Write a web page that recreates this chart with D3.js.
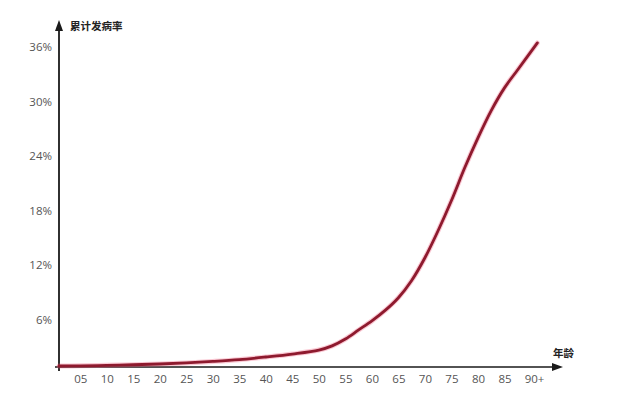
<!DOCTYPE html>
<html><head><meta charset="utf-8">
<script src="https://cdn.jsdelivr.net/npm/d3@7"></script>
<style>html,body{margin:0;padding:0;background:#fff;}svg{display:block;}</style>
</head><body>
<svg id="c" width="620" height="419"></svg>
<script>
const ages = [1, 5, 10, 15, 20, 25, 30, 35, 40, 45, 50, 52.5, 55, 57.5, 60, 62.5, 65, 67.5, 70, 72.5, 75, 77.5, 80, 82.5, 85, 87.5, 91.2];
const rates = [0.88, 0.9, 0.95, 1.02, 1.1, 1.22, 1.38, 1.58, 1.87, 2.2, 2.64, 3.1, 3.85, 4.85, 5.85, 7.0, 8.4, 10.3, 12.8, 15.8, 19.1, 22.7, 26.0, 29.0, 31.5, 33.5, 36.45];
const xTickValues = [5, 10, 15, 20, 25, 30, 35, 40, 45, 50, 55, 60, 65, 70, 75, 80, 85, 90];
const xTickLabels = ["05","10","15","20","25","30","35","40","45","50","55","60","65","70","75","80","85","90+"];
const yTickValues = [6, 12, 18, 24, 30, 36];
const yTickLabels = ["6%","12%","18%","24%","30%","36%"];
const yTitle = "累计发病率";
const xTitle = "年龄";

const svg = d3.select("#c");
const font = "'Open Sans', 'DejaVu Sans', sans-serif";
const x = d3.scaleLinear().domain([1, 90]).range([59, 531]);
const y = d3.scaleLinear().domain([0, 36]).range([374, 47]);
const axisY = 367, axisX = x(1);

// y tick labels
const yAxis = d3.axisLeft(y).tickValues(yTickValues).tickSize(0).tickPadding(0)
  .tickFormat((d,i)=>yTickLabels[i]);
const gy = svg.append("g").attr("transform", `translate(${axisX - 7},0)`).call(yAxis);
gy.select(".domain").remove();
gy.selectAll("text").attr("font-family", font).attr("font-size", 11.5).attr("fill", "#555");

// x tick labels
const xAxis = d3.axisBottom(x).tickValues(xTickValues).tickSize(0).tickPadding(0)
  .tickFormat((d,i)=>xTickLabels[i]);
const gx = svg.append("g").attr("transform", `translate(0,${axisY + 8})`).call(xAxis);
gx.select(".domain").remove();
gx.selectAll("text").attr("font-family", font).attr("font-size", 11.5).attr("fill", "#555");
gx.selectAll(".tick").filter((d,i)=>i===xTickValues.length-1).select("text").attr("dx", 3);

// axes lines
svg.append("line").attr("x1", axisX - 4).attr("x2", 553).attr("y1", axisY).attr("y2", axisY)
  .attr("stroke", "#1a1a1a").attr("stroke-width", 1.6);
svg.append("path").attr("d", `M563,${axisY} L552,${axisY-4} L552,${axisY+4} Z`).attr("fill", "#1a1a1a");
svg.append("line").attr("x1", axisX).attr("x2", axisX).attr("y1", 29).attr("y2", axisY + 4)
  .attr("stroke", "#1a1a1a").attr("stroke-width", 1.8);
svg.append("path").attr("d", `M${axisX},20 L${axisX-4},31 L${axisX+4},31 Z`).attr("fill", "#1a1a1a");

// titles
svg.append("text").attr("x", 70).attr("y", 30).text(yTitle)
  .attr("font-family", "'Noto Sans CJK SC', sans-serif").attr("font-size", 10.5).attr("font-weight", "bold").attr("fill", "#222");
svg.append("text").attr("x", 553).attr("y", 357).text(xTitle)
  .attr("font-family", "'Noto Sans CJK SC', sans-serif").attr("font-size", 10.5).attr("font-weight", "bold").attr("fill", "#222");

// curve
const data = ages.map((a,i)=>[a, rates[i]]);
const line = d3.line().x(d=>x(d[0])).y(d=>y(d[1])).curve(d3.curveCatmullRom.alpha(0.5));
svg.append("path").datum(data).attr("d", line).attr("fill", "none")
  .attr("stroke", "#f06080").attr("stroke-opacity", 0.35).attr("stroke-width", 5).attr("stroke-linecap", "round");
svg.append("path").datum(data).attr("d", line).attr("fill", "none")
  .attr("stroke", "#8e1a2e").attr("stroke-width", 2.8).attr("stroke-linecap", "round");
</script>
</body></html>
